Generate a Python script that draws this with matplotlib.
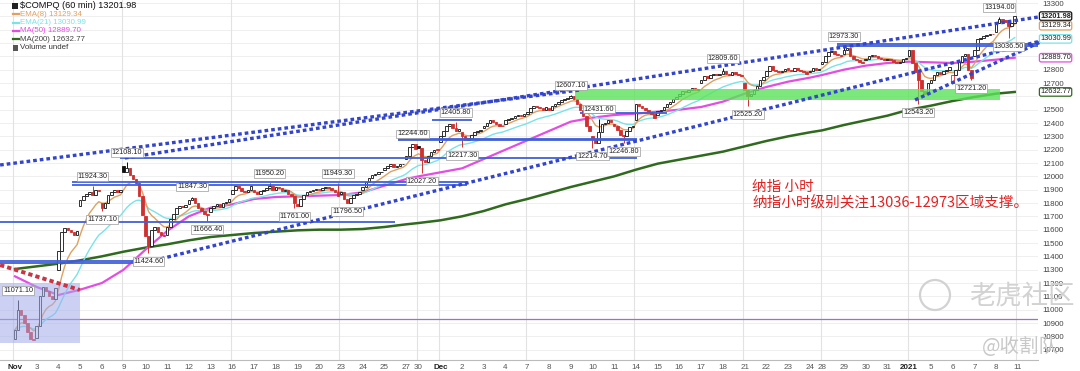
import numpy as np
import matplotlib.pyplot as plt
import matplotlib.transforms as mtransforms
from matplotlib.patches import Rectangle, Ellipse
from matplotlib.lines import Line2D

plt.rcParams['font.family'] = ['Liberation Sans', 'DejaVu Sans']
CJK = ['Noto Sans CJK SC', 'DejaVu Sans']

# ---- $COMPQ 60 min bars, Nov 2 2020 .. Jan 8 2021 ----
day_ticks = ["Nov", "3", "4", "5", "6", "9", "10", "11", "12", "13", "16", "17", "18", "19", "20",
             "23", "24", "25", "27", "30",
             "Dec", "2", "3", "4", "7", "8", "9", "10", "11", "14", "15", "16", "17", "18",
             "21", "22", "23", "24", "28", "29", "30", "31",
             "2021", "5", "6", "7", "8"]
next_tick = "11"
bold_ticks = ["Nov", "Dec", "2021"]
week_starts = ["Nov", "9", "16", "23", "30", "Dec", "7", "14", "21", "28", "2021"]

day_opens = [10780, 10790, 11300, 11780, 11800, 12080, 11700, 11560, 11790, 11730,
             11870, 11900, 11900, 11790, 11900, 11870, 11900, 12050, 12130, 12230,
             12260, 12330, 12360, 12390, 12470, 12510, 12590, 12300, 12390, 12420,
             12460, 12600, 12700, 12770, 12700, 12750, 12810, 12780, 12840, 12920,
             12870, 12870, 12900, 12700, 12700, 12900, 13080]

hour_closes = [
    [10850, 11000, 10960, 10900, 10830, 10780, 10770],  # Nov 2
    [10880, 11100, 11170, 11140, 11100, 11080, 11160],  # Nov 3
    [11440, 11580, 11610, 11600, 11580, 11560, 11590],  # Nov 4
    [11820, 11850, 11870, 11880, 11860, 11900, 11890],  # Nov 5
    [11760, 11800, 11860, 11880, 11900, 11880, 11895],  # Nov 6
    [12030, 12060, 12010, 11980, 11950, 11850, 11713],  # Nov 9
    [11550, 11480, 11600, 11620, 11580, 11560, 11553],  # Nov 10
    [11620, 11680, 11720, 11760, 11780, 11770, 11786],  # Nov 11
    [11820, 11840, 11800, 11760, 11740, 11720, 11709],  # Nov 12
    [11760, 11780, 11790, 11770, 11800, 11810, 11829],  # Nov 13
    [11900, 11930, 11910, 11890, 11880, 11900, 11924],  # Nov 16
    [11880, 11870, 11890, 11900, 11910, 11930, 11899],  # Nov 17
    [11920, 11910, 11890, 11900, 11870, 11850, 11801],  # Nov 18
    [11780, 11830, 11860, 11880, 11890, 11900, 11904],  # Nov 19
    [11900, 11910, 11920, 11910, 11900, 11880, 11855],  # Nov 20
    [11880, 11830, 11800, 11840, 11860, 11870, 11880],  # Nov 23
    [11920, 11960, 11990, 12010, 12020, 12030, 12036],  # Nov 24
    [12060, 12080, 12090, 12070, 12080, 12090, 12094],  # Nov 25
    [12150, 12220, 12240, 12205],                       # Nov 27 (half day)
    [12210, 12120, 12110, 12150, 12180, 12200, 12198],  # Nov 30
    [12300, 12340, 12380, 12390, 12360, 12340, 12355],  # Dec 1
    [12300, 12270, 12290, 12310, 12330, 12340, 12349],  # Dec 2
    [12380, 12400, 12420, 12410, 12390, 12380, 12377],  # Dec 3
    [12420, 12430, 12440, 12450, 12460, 12455, 12464],  # Dec 4
    [12480, 12510, 12530, 12520, 12510, 12500, 12519],  # Dec 7
    [12500, 12530, 12540, 12560, 12570, 12580, 12582],  # Dec 8
    [12600, 12580, 12540, 12500, 12450, 12380, 12338],  # Dec 9
    [12280, 12250, 12330, 12390, 12400, 12420, 12405],  # Dec 10
    [12380, 12350, 12310, 12300, 12340, 12370, 12377],  # Dec 11
    [12540, 12530, 12510, 12500, 12480, 12470, 12440],  # Dec 14
    [12490, 12500, 12520, 12540, 12560, 12580, 12595],  # Dec 15
    [12620, 12640, 12630, 12650, 12660, 12650, 12658],  # Dec 16
    [12720, 12750, 12740, 12760, 12770, 12760, 12764],  # Dec 17
    [12790, 12770, 12760, 12780, 12770, 12760, 12755],  # Dec 18
    [12650, 12600, 12620, 12650, 12680, 12720, 12742],  # Dec 21
    [12790, 12830, 12800, 12790, 12780, 12790, 12807],  # Dec 22
    [12800, 12790, 12810, 12800, 12790, 12780, 12771],  # Dec 23
    [12790, 12810, 12800, 12804],                       # Dec 24 (half day)
    [12860, 12900, 12930, 12940, 12920, 12910, 12899],  # Dec 28
    [12950, 12960, 12900, 12880, 12870, 12860, 12850],  # Dec 29
    [12880, 12900, 12910, 12900, 12890, 12880, 12870],  # Dec 30
    [12880, 12870, 12860, 12850, 12860, 12880, 12888],  # Dec 31
    [12950, 12850, 12780, 12720, 12640, 12620, 12698],  # Jan 4
    [12720, 12760, 12780, 12770, 12790, 12800, 12819],  # Jan 5
    [12760, 12800, 12860, 12900, 12920, 12800, 12740],  # Jan 6
    [12950, 13030, 13040, 13050, 13060, 13070, 13067],  # Jan 7
    [13150, 13180, 13170, 13160, 13130, 13150, 13201.98],  # Jan 8
]

# labelled swing points: (day tick index, hour of day, price)
pivot_highs = [(0, 1, 11071.10), (3, 4, 11924.30), (5, 1, 12108.10), (8, 1, 11847.30),
               (11, 5, 11950.20), (14, 6, 11949.30), (18, 2, 12244.60), (20, 5, 12405.80),
               (26, 0, 12607.10), (27, 2, 12431.60), (33, 0, 12809.60), (39, 0, 12973.30),
               (46, 1, 13194.00)]
pivot_lows = [(4, 0, 11737.10), (6, 1, 11424.60), (8, 6, 11666.40), (12, 6, 11761.00),
              (15, 2, 11796.50), (19, 1, 12027.20), (21, 0, 12217.30), (27, 0, 12214.70),
              (28, 3, 12246.80), (34, 1, 12525.20), (42, 3, 12543.20), (44, 6, 12721.20),
              (46, 4, 13036.50)]

# moving averages read at the first bar of every day
ma50_daily = [11250, 11170, 11110, 11150, 11200, 11300, 11450, 11590, 11700, 11765,
              11790, 11830, 11845, 11850, 11855, 11860, 11880, 11930, 11980, 12000,
              12030, 12060, 12130, 12200, 12270, 12340, 12410, 12440, 12460, 12470,
              12485, 12500, 12520, 12560, 12620, 12670, 12710, 12740, 12760, 12800,
              12830, 12850, 12860, 12855, 12850, 12860, 12875]
ma200_daily = [11305, 11325, 11345, 11370, 11400, 11435, 11465, 11490, 11520, 11545,
               11560, 11575, 11585, 11595, 11600, 11600, 11605, 11620, 11640, 11650,
               11670, 11700, 11740, 11790, 11830, 11875, 11920, 11960, 12000, 12050,
               12095, 12125, 12155, 12185, 12225, 12265, 12300, 12330, 12345, 12385,
               12420, 12455, 12500, 12530, 12565, 12595, 12620]
last_close = 13201.98
ema8_last = 13129.34
ema21_last = 13030.99
ma50_last = 12889.70
ma200_last = 12632.77

# drawn analysis: support/resistance levels (price, from bar, to bar)
levels = [(11365, -5, 43.5), (11350, -5, 43.5), (11660, -5, 122.4),
          (11955, 18.4, 145.6), (11937, 18.4, 145.6), (12137, 33.8, 200.3),
          (12283, 123.4, 200.3), (12270, 123.4, 200.3), (12422, 134.3, 147.2),
          (12475, 182, 210), (12995, 264.7, 335), (12978, 264.7, 335)]
trend_lines = [(35.4, 12137.5, 331.7, 13202.5), (-4.8, 12085, 181.9, 12647.5),
               (42.8, 11357.5, 331.7, 13022.5), (289.9, 12572.5, 331.7, 13022.5)]
red_trend = (-4.8, 11335, 20.9, 11147.5)
support_band = (180.4, 317.3, 12572.5, 12655)
base_box = (-4.8, 20.9, 10750, 11200)
purple_level = 10930
hidden_ticks = [12600, 12900, 13000, 13100, 13200]

# ---- build bars ----
opens, closes, day_start = [], [], []
for d, hrs in enumerate(hour_closes):
    day_start.append(len(closes))
    prev = day_opens[d]
    for c in hrs:
        opens.append(prev)
        closes.append(c)
        prev = c
opens = np.array(opens, float)
closes = np.array(closes, float)
highs = np.maximum(opens, closes)
lows = np.minimum(opens, closes)
for d, h, p in pivot_highs:
    highs[day_start[d] + h] = p
for d, h, p in pivot_lows:
    lows[day_start[d] + h] = p
n = len(closes)
xs = np.arange(n)


def ema(vals, span):
    a = 2.0 / (span + 1)
    out = [vals[0]]
    for v in vals[1:]:
        out.append(out[-1] + a * (v - out[-1]))
    return np.array(out)


ema8 = ema(closes, 8)
ema21 = ema(closes, 21)

# ---- figure ----
W, H = 1080, 371
fig = plt.figure(figsize=(W / 100, H / 100), dpi=100)
ax = fig.add_axes([0, 1 - 360 / H, 1038 / W, 360 / H])
ax.set_xlim(-4.83, 329.5)
ax.set_ylim(10622.5, 13322.5)

for v in range(10700, 13301, 100):
    ax.axhline(v, color='#ececec', lw=0.6, zorder=0)
all_starts = day_start + [n]
all_ticks = day_ticks + [next_tick]
for t in week_starts:
    ax.axvline(day_start[day_ticks.index(t)] - 0.5, color='#e2e2e2', lw=0.8, zorder=0)
ax.axvline(n - 0.5, color='#e2e2e2', lw=0.8, zorder=0)

ax.axhline(purple_level, color='#9a6fd6', lw=0.9, zorder=1)

# moving averages
ax.plot(day_start + [n - 1], ma200_daily + [ma200_last], color='#2f6a1e', lw=1.8, zorder=2)
ax.plot(day_start + [n - 1], ma50_daily + [ma50_last], color='#e34de3', lw=1.6, zorder=2)
ax.plot(xs, ema21, color='#79e3e8', lw=1.0, zorder=2)
ax.plot(xs, ema8, color='#e0a060', lw=1.0, zorder=2)

# candles (StockCharts style: red if close below previous close, filled if close below open)
prev_close = np.concatenate([[opens[0]], closes[:-1]])
for i in range(n):
    col = '#d03030' if closes[i] < prev_close[i] else '#111111'
    face = col if closes[i] < opens[i] else 'white'
    ax.vlines(i, lows[i], highs[i], color=col, lw=0.7, zorder=3)
    body = max(abs(closes[i] - opens[i]), 4)
    ax.bar(i, body, bottom=min(opens[i], closes[i]), width=0.82, color=face,
           edgecolor=col, lw=0.6, zorder=3.1)

# horizontal levels
for p, x0, x1 in levels:
    ax.plot([x0, x1], [p, p], color='#4060d8', lw=1.3, zorder=4, solid_capstyle='butt')

# shaded zones
x0, x1, p0, p1 = support_band
ax.add_patch(Rectangle((x0, p0), x1 - x0, p1 - p0, facecolor='#5be35b', alpha=0.8,
                       edgecolor='none', zorder=5))
x0, x1, p0, p1 = base_box
ax.add_patch(Rectangle((x0, p0), x1 - x0, p1 - p0, facecolor='#a2aceb', alpha=0.55,
                       edgecolor='none', zorder=5))

# dotted trend lines
for x0, p0, x1, p1 in trend_lines:
    ax.plot([x0, x1], [p0, p1], color='#3345cc', lw=2.4, ls=(0, (1.1, 0.9)),
            zorder=6, clip_on=False, dash_capstyle='butt')
x0, p0, x1, p1 = red_trend
ax.plot([x0, x1], [p0, p1], color='#cc3344', lw=2.8, ls=(0, (1.1, 0.8)), zorder=6,
        dash_capstyle='butt')

# pivot tags
tag_box = dict(boxstyle='square,pad=0.12', facecolor='white', edgecolor='#9a9a9a', lw=0.5)
for d, h, p in pivot_highs:
    i = day_start[d] + h
    ax.annotate(f"{p:.2f}", (i, p), xytext=(0, 4.5), textcoords='offset points',
                ha='center', va='bottom', fontsize=5.2, color='#222222', bbox=tag_box,
                zorder=8, annotation_clip=False)
for d, h, p in pivot_lows:
    i = day_start[d] + h
    ax.annotate(f"{p:.2f}", (i, p), xytext=(0, -3.5), textcoords='offset points',
                ha='center', va='top', fontsize=5.2, color='#222222', bbox=tag_box,
                zorder=8, annotation_clip=False)
ax.text(support_band[0] + 265, (support_band[2] + support_band[3]) / 2, "12650.00",
        fontsize=5.2, color='#3d8a3d', va='center', ha='center', zorder=8)

# axes styling
ax.yaxis.tick_right()
yt = [v for v in range(10700, 13301, 100) if v not in hidden_ticks]
ax.set_yticks(yt)
ax.tick_params(axis='y', length=0, pad=3, labelsize=5.7, labelcolor='#444444')
ax.set_xticks(all_starts)
ax.set_xticklabels(all_ticks)
ax.tick_params(axis='x', length=0, pad=3, labelsize=5.8, labelcolor='#555555')
for lbl in ax.get_xticklabels():
    if lbl.get_text() in bold_ticks:
        lbl.set_fontweight('bold')
        lbl.set_color('#222222')
for s in ['top', 'left', 'right']:
    ax.spines[s].set_visible(False)
ax.spines['bottom'].set_color('#bbbbbb')
ax.spines['bottom'].set_linestyle((0, (1, 1)))
ax.spines['bottom'].set_linewidth(0.8)
fig.add_artist(Line2D([0, 1038 / W], [0.5 / H, 0.5 / H], color='#bbbbbb', lw=0.8,
                      ls=(0, (1, 1))))

# right side value boxes
trans = mtransforms.blended_transform_factory(ax.transAxes, ax.transData)
for val, col, weight in [(last_close, '#111111', 'bold'), (ema8_last, '#e0a060', 'normal'),
                         (ema21_last, '#79e3e8', 'normal'), (ma50_last, '#e34de3', 'normal'),
                         (ma200_last, '#2f6a1e', 'normal')]:
    ax.text(1071 / 1038, val, f"{val:.2f}", transform=trans, fontsize=5.3, color='#222222',
            fontweight=weight, va='center', ha='right', clip_on=False, zorder=9,
            bbox=dict(boxstyle='round,pad=0.1,rounding_size=0.25', facecolor='white',
                      edgecolor=col, lw=0.9))

# legend block (top-left)
legend_rows = [("$COMPQ (60 min) 13201.98", '#111111', None),
               (f"EMA(8) {ema8_last:.2f}", '#e0a060', '#e0a060'),
               (f"EMA(21) {ema21_last:.2f}", '#79e3e8', '#79e3e8'),
               (f"MA(50) {ma50_last:.2f}", '#e34de3', '#e34de3'),
               (f"MA(200) {ma200_last:.2f}", '#2f6a1e', '#2f6a1e'),
               ("Volume undef", '#333333', None)]
for k, (txt, tcol, lcol) in enumerate(legend_rows):
    y = 1 - (6 + 8.3 * k) / H
    if lcol is not None:
        fig.add_artist(Line2D([13 / W, 19 / W], [y, y], color=lcol, lw=1.6))
        tcol = '#444444' if k == 4 else tcol
    fig.text(20 / W, y, txt, fontsize=6.6 if k == 0 else 5.7, color=tcol, va='center')
fig.add_artist(Rectangle((12 / W, 1 - 9 / H), 6 / W, 6 / H, facecolor='#222222',
                         edgecolor='none'))
fig.add_artist(Rectangle((13 / W, 1 - (6 + 8.3 * 5 + 3) / H), 5 / W, 5 / H,
                         facecolor='#555555', edgecolor='none'))

# commentary text
ax.text(237.4, 11920, "纳指 小时", fontsize=10.5, color='#e02222', family=CJK,
        va='center', ha='left', zorder=9)
ax.text(237.4, 11800, "纳指小时级别关注13036-12973区域支撑。", fontsize=10.5, color='#e02222',
        family=CJK, va='center', ha='left', zorder=9)

# watermark
fig.add_artist(Ellipse((935 / W, 1 - 295 / H), 30 / W, 30 / H, transform=fig.transFigure,
                       facecolor='none', edgecolor='#d2d2d2', lw=1.6))
fig.text(1022 / W, 1 - 296 / H, "老虎社区", fontsize=19, color='#d2d2d2', family=CJK,
         ha='center', va='center')
fig.text(1020 / W, 1 - 346 / H, "@收割队", fontsize=14, color='#c8c8c8', family=CJK,
         ha='center', va='center')

fig.savefig("out.png", dpi=100)
